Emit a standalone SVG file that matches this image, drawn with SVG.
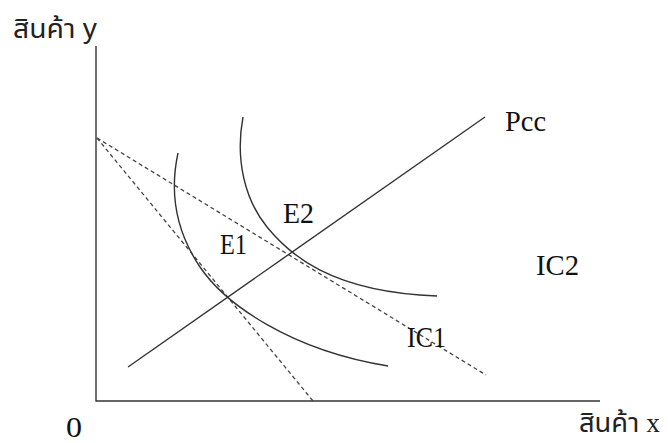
<svg xmlns="http://www.w3.org/2000/svg" width="668" height="443" viewBox="0 0 668 443">
<style>
.ln{fill:none;stroke:#333;stroke-width:1.4}
.ds{fill:none;stroke:#444;stroke-width:1.3;stroke-dasharray:4 3}
.t{font-family:"Liberation Serif","Times New Roman",serif;font-size:30px;fill:#111}
.th{font-family:"Noto Sans Thai","Tahoma","DejaVu Sans","Noto Sans",sans-serif;font-size:27px;fill:#222}
</style>
<rect width="668" height="443" fill="#fff"/>
<g id="axes">
<path class="ln" d="M96,46 V401 H600"/>
</g>
<g id="connectors">
<path class="ds" d="M97,138 L486,375"/>
<path class="ds" d="M97,138 L313,401"/>
<path class="ln" d="M128,367 L485,117"/>
</g>
<g id="IC1"><path class="ln" d="M178,153 C170,190 175,230 200,267 C225,304 290,350 388,366"/></g>
<g id="IC2"><path class="ln" d="M243,117 C235,160 245,200 267,227 C289,254 330,292 437,296"/></g>
<g id="labels">
<text class="th" x="13" y="38" textLength="84" lengthAdjust="spacingAndGlyphs">สินค้า <tspan font-family="Liberation Sans, sans-serif">y</tspan></text>
<text class="th" x="579" y="432" font-size="25" textLength="81" lengthAdjust="spacingAndGlyphs">สินค้า <tspan font-family="Liberation Serif, serif">x</tspan></text>
<text class="t" x="66" y="437" font-size="28" textLength="16" lengthAdjust="spacingAndGlyphs">0</text>
<text class="t" x="505" y="131" textLength="41" lengthAdjust="spacingAndGlyphs">Pcc</text>
<text class="t" x="220" y="254" textLength="27" lengthAdjust="spacingAndGlyphs">E1</text>
<text class="t" x="283" y="223" textLength="31" lengthAdjust="spacingAndGlyphs">E2</text>
<text class="t" x="407" y="347" textLength="39" lengthAdjust="spacingAndGlyphs">IC1</text>
<text class="t" x="536" y="275" textLength="43" lengthAdjust="spacingAndGlyphs">IC2</text>
</g>
</svg>
